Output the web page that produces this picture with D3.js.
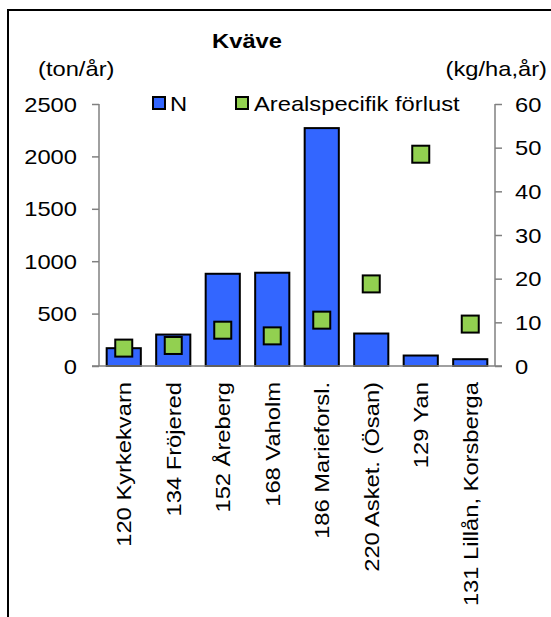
<!DOCTYPE html>
<html>
<head>
<meta charset="utf-8">
<script src="https://cdn.jsdelivr.net/npm/d3@7"></script>
<style>
  html, body { margin: 0; padding: 0; background: #fff; }
  svg { display: block; font-family: "Liberation Sans", Arial, sans-serif; }
</style>
</head>
<body>
<div id="chart"></div>
<script>
// data
const categories = ['120 Kyrkekvarn', '134 Fröjered', '152 Åreberg', '168 Vaholm',
    '186 Marieforsl.', '220 Asket. (Ösan)', '129 Yan', '131 Lillån, Korsberga'];
const nValues = [170, 300, 880, 890, 2270, 310, 100, 65];          // ton/år
const arealValues = [4.1, 4.7, 8.2, 6.9, 10.5, 18.8, 48.5, 9.6];   // kg/ha,år
const leftTicks = [0, 500, 1000, 1500, 2000, 2500];
const rightTicks = [0, 10, 20, 30, 40, 50, 60];
const seriesNames = ['N', 'Arealspecifik förlust'];

const width = 551, height = 617;
const sx = 1.13;       // texten är lite bredare än vanlig Arial
const fs = 21;

const svg = d3.select('#chart').append('svg')
    .attr('width', width)
    .attr('height', height);

// ramen runt diagrammet
svg.append('rect')
    .attr('x', 8).attr('y', 10)
    .attr('width', 600).attr('height', 700)
    .attr('fill', 'none')
    .attr('stroke', '#000')
    .attr('stroke-width', 2);

const plot = { left: 99, right: 495, top: 104, bottom: 366 };

const x = d3.scaleBand()
    .domain(categories)
    .range([plot.left, plot.right])
    .paddingInner(0.31)
    .paddingOuter(0.155);

const yLeft = d3.scaleLinear().domain([0, 2500]).range([plot.bottom, plot.top]);
const yRight = d3.scaleLinear().domain([0, 60]).range([plot.bottom, plot.top]);

function addText(parent, px, py, txt, opts = {}) {
    const rot = opts.rotate ? ` rotate(${opts.rotate})` : '';
    return parent.append('text')
        .attr('transform', `translate(${px},${py})${rot} scale(${sx},1)`)
        .attr('font-size', opts.size || fs)
        .attr('font-weight', opts.bold ? 'bold' : 'normal')
        .attr('text-anchor', opts.anchor || 'start')
        .attr('dy', opts.dy || null)
        .attr('fill', '#000')
        .text(txt);
}

// axlar
const axisLeft = svg.append('g')
    .attr('transform', `translate(${plot.left},0)`)
    .call(d3.axisLeft(yLeft).tickValues(leftTicks).tickSize(7).tickFormat(''));
const axisRight = svg.append('g')
    .attr('transform', `translate(${plot.right},0)`)
    .call(d3.axisRight(yRight).tickValues(rightTicks).tickSize(7).tickFormat(''));
[axisLeft, axisRight].forEach(a => {
    a.selectAll('line').attr('stroke', '#808080').attr('stroke-width', 1.5);
    a.select('.domain').remove();
    a.append('line')
        .attr('x1', 0).attr('x2', 0)
        .attr('y1', plot.top).attr('y2', plot.bottom)
        .attr('stroke', '#808080').attr('stroke-width', 1.5);
});

leftTicks.forEach(t => addText(svg, 77, yLeft(t), t, { anchor: 'end', dy: '0.36em' }));
rightTicks.forEach(t => addText(svg, 515, yRight(t), t, { anchor: 'start', dy: '0.36em' }));

// staplar
svg.append('g')
    .selectAll('rect')
    .data(nValues)
    .enter().append('rect')
    .attr('x', (d, i) => x(categories[i]))
    .attr('y', d => yLeft(d))
    .attr('width', x.bandwidth())
    .attr('height', d => yLeft(0) - yLeft(d))
    .attr('fill', '#3366FF')
    .attr('stroke', '#000')
    .attr('stroke-width', 2);

// kategoriaxel
svg.append('line')
    .attr('x1', plot.left - 7).attr('x2', plot.right + 7)
    .attr('y1', plot.bottom).attr('y2', plot.bottom)
    .attr('stroke', '#808080').attr('stroke-width', 1.5);

// markörer
const ms = 17;
svg.append('g')
    .selectAll('rect')
    .data(arealValues)
    .enter().append('rect')
    .attr('x', (d, i) => x(categories[i]) + x.bandwidth() / 2 - ms / 2)
    .attr('y', d => yRight(d) - ms / 2)
    .attr('width', ms)
    .attr('height', ms)
    .attr('fill', '#92D050')
    .attr('stroke', '#000')
    .attr('stroke-width', 2);

// kategorietiketter
categories.forEach(c => {
    addText(svg, x(c) + x.bandwidth() / 2, 382, c, { rotate: -90, anchor: 'end', dy: '0.36em' });
});

// titel och enheter
addText(svg, 247, 48, 'Kväve', { bold: true, anchor: 'middle' });
addText(svg, 38, 76, '(ton/år)');
addText(svg, 547, 76, '(kg/ha,år)', { anchor: 'end' });

// förklaring
const legend = svg.append('g');
legend.append('rect')
    .attr('x', 153).attr('y', 97).attr('width', 12).attr('height', 12)
    .attr('fill', '#3366FF').attr('stroke', '#000').attr('stroke-width', 2);
addText(legend, 170, 111, seriesNames[0]);
legend.append('rect')
    .attr('x', 236).attr('y', 97).attr('width', 12).attr('height', 12)
    .attr('fill', '#92D050').attr('stroke', '#000').attr('stroke-width', 2);
addText(legend, 254, 111, seriesNames[1]);
</script>
</body>
</html>
